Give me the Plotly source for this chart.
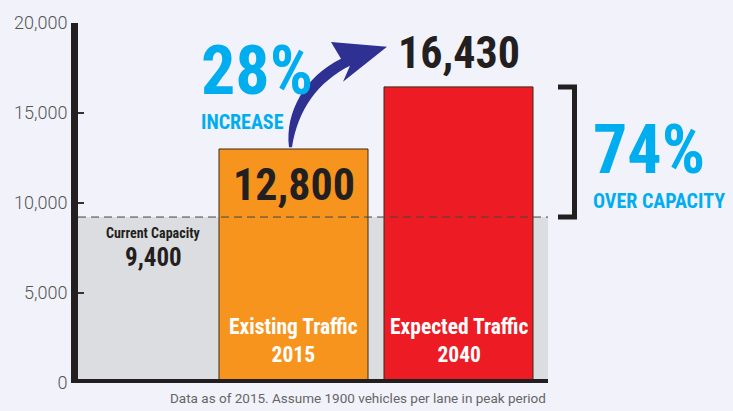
import plotly.graph_objects as go

# ---- data ----
categories = ["Existing Traffic<br>2015", "Expected Traffic<br>2040"]
bar_heights = [13000, 16450]          # drawn bar heights
bar_labels = ["12,800", "16,430"]      # printed values
bar_colors = ["#F7941D", "#ED1C24"]
capacity_height = 9220                 # drawn capacity level
capacity_label = "9,400"
capacity_title = "Current Capacity"
y_ticks = [0, 5000, 10000, 15000, 20000]
increase_text = "28%"
increase_sub = "INCREASE"
over_text = "74%"
over_sub = "OVER CAPACITY"
note = "Data as of 2015. Assume 1900 vehicles per lane in peak period"

W, H = 733, 411
L, R, T, B = 78, 185, 21, 28
PW, PH = W - L - R, H - T - B

def px(x):
    return (x - L) / PW

def py(y):
    return (H - B - y) / PH

BG = "#F1F2FA"
CYAN = "#00AEEF"
INK = "#231F20"
COND = "Roboto Condensed, Open Sans Condensed, Liberation Sans Narrow, sans-serif"

xpos = [i + 1 for i in range(len(categories))]

fig = go.Figure()
fig.add_trace(go.Bar(
    x=xpos, y=bar_heights, width=149 / 165,
    marker=dict(color=bar_colors, line=dict(color="#3a2a1a", width=1)),
    hoverinfo="skip",
))

shapes = []
# current capacity region
shapes.append(dict(type="rect", xref="paper", yref="y", x0=0, x1=1, y0=0, y1=capacity_height,
                   fillcolor="#DCDDE0", line=dict(width=0), layer="below"))
shapes.append(dict(type="line", xref="paper", yref="y", x0=0, x1=1, y0=capacity_height, y1=capacity_height,
                   line=dict(color="#444444", width=1, dash="8px,5px"), layer="above"))
# bottom axis line
shapes.append(dict(type="line", xref="paper", yref="y", x0=px(71), x1=1, y0=0, y1=0,
                   line=dict(color=INK, width=8), layer="above"))
# bracket
bx0, bx1 = px(558), px(574.5)
shapes.append(dict(type="path", xref="paper", yref="y",
                   path=f"M {bx0},{capacity_height} L {bx1},{capacity_height} L {bx1},{bar_heights[1]} L {bx0},{bar_heights[1]}",
                   line=dict(color=INK, width=5), layer="above"))
# curved arrow
pts = [("M", [(289, 146)]),
       ("C", [(285, 110), (305, 75), (341, 57)]),
       ("L", [(331, 40)]),
       ("L", [(387, 45)]),
       ("L", [(343, 80)]),
       ("L", [(350, 64)]),
       ("C", [(318, 80), (298, 108), (292, 146)])]
path = " ".join(c + " " + " ".join(f"{px(a):.5f},{py(b):.5f}" for a, b in p) for c, p in pts) + " Z"
shapes.append(dict(type="path", xref="paper", yref="paper", path=path,
                   fillcolor="#2E3192", line=dict(width=0), layer="above"))

ann = []
ann.append(dict(xref="paper", yref="paper", x=px(199), y=py(135),
                text=f"<span style='font-size:68px'><b>{increase_text}</b></span><br>"
                     f"<span style='font-size:20px'><b>{increase_sub}</b></span>",
                font=dict(family=COND, size=27, color=CYAN), showarrow=False,
                xanchor="left", yanchor="bottom", align="left"))
ann.append(dict(xref="paper", yref="paper", x=px(591), y=py(214),
                text=f"<span style='font-size:68px'><b>{over_text}</b></span><br>"
                     f"<span style='font-size:20px'><b>{over_sub}</b></span>",
                font=dict(family=COND, size=27, color=CYAN), showarrow=False,
                xanchor="left", yanchor="bottom", align="left"))
# value labels
ann.append(dict(x=xpos[0], y=bar_heights[0], text=f"<b>{bar_labels[0]}</b>", yanchor="top", yshift=-8,
                font=dict(family=COND, size=44, color=INK), showarrow=False))
ann.append(dict(x=xpos[1], y=bar_heights[1], text=f"<b>{bar_labels[1]}</b>", yanchor="bottom", yshift=6,
                font=dict(family=COND, size=44, color=INK), showarrow=False))
# category labels inside bars
for xp, c in zip(xpos, categories):
    ann.append(dict(x=xp, y=0, text=f"<b>{c}</b>", yanchor="bottom", yshift=14,
                    font=dict(family=COND, size=21.5, color="white"), showarrow=False))
# capacity labels
ann.append(dict(x=0.15, y=capacity_height, text=f"<b>{capacity_title}</b>", yanchor="top", yshift=-6,
                font=dict(family=COND, size=14, color=INK), showarrow=False))
ann.append(dict(x=0.15, y=capacity_height, text=f"<b>{capacity_label}</b>", yanchor="top", yshift=-24,
                font=dict(family=COND, size=25, color=INK), showarrow=False))
# note
ann.append(dict(xref="paper", yref="paper", x=1, y=py(398), text=note, xanchor="right", yanchor="middle",
                font=dict(family="Roboto, sans-serif", size=13.5, color="#666666"), showarrow=False))

fig.update_layout(
    width=W, height=H, margin=dict(l=L, r=R, t=T, b=B),
    paper_bgcolor=BG, plot_bgcolor=BG, showlegend=False,
    shapes=shapes, annotations=ann,
    xaxis=dict(range=[1 - 215.5 / 165, 2 + 89.5 / 165], showgrid=False, zeroline=False,
               showticklabels=False, showline=False, ticks=""),
    yaxis=dict(range=[0, 20000], showgrid=False, zeroline=False, showline=True, linecolor=INK, linewidth=7,
               ticks="inside", ticklen=6, tickwidth=2, tickcolor="#333333",
               tickvals=y_ticks, tickformat=",d",
               tickfont=dict(family="Roboto, sans-serif", size=18, color="#555555", weight=300)),
)
fig.write_html("out.html", config={"displayModeBar": False},
               post_script="document.body.style.margin='0px';document.body.style.background='" + BG + "';")
